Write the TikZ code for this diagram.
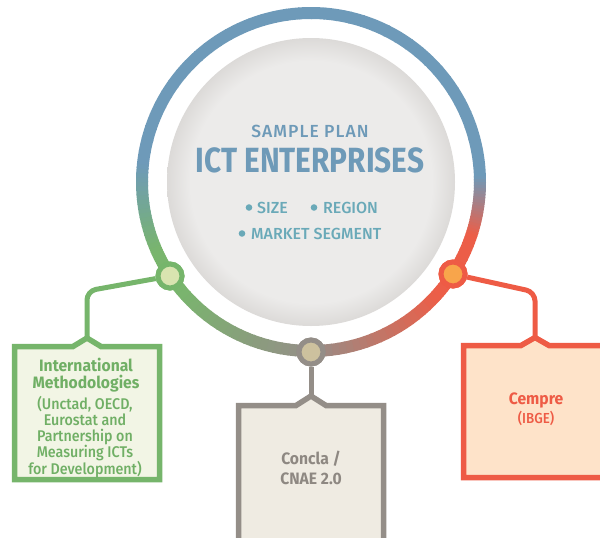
\documentclass[tikz,border=0pt]{standalone}
\usepackage{fontspec}
\setmainfont{Fira Sans}[FakeStretch=0.85]
\newfontfamily\boxfont{Fira Sans}[FakeStretch=0.95]
\newfontfamily\boxsubfont{Fira Sans Medium}[FakeStretch=0.92]
\newfontfamily\planfont{Fira Sans Medium}[LetterSpace=6]
\newfontfamily\bulletfont{Fira Sans Medium}
\usepackage{xcolor}
\usetikzlibrary{calc}
\definecolor{RingBlue}{HTML}{6E9AB9}
\definecolor{RingRed}{HTML}{EC5E48}
\definecolor{RingGray}{HTML}{958E88}
\definecolor{RingGreen}{HTML}{79B56D}
\definecolor{DiscIn}{HTML}{ECEBEA}
\definecolor{DiscEdge}{HTML}{DCDAD8}
\definecolor{TitleBlue}{HTML}{6E9AB8}
\definecolor{BulletTeal}{HTML}{6AA9B8}
\definecolor{GreenLine}{HTML}{76B56B}
\definecolor{GreenFill}{HTML}{F2F5E5}
\definecolor{GreenDot}{HTML}{D9E4B0}
\definecolor{GreyLine}{HTML}{948E88}
\definecolor{GreyFill}{HTML}{EFEBE2}
\definecolor{GreyDot}{HTML}{CDC19E}
\definecolor{RedLine}{HTML}{EE5B45}
\definecolor{RedFill}{HTML}{FEE3C9}
\definecolor{OrangeDot}{HTML}{F8A54B}
\definecolor{GreenText}{HTML}{70AF65}
\definecolor{GreyText}{HTML}{8E8882}
\definecolor{RedText}{HTML}{EE5B45}
\pgfdeclareradialshading{discshade}{\pgfpoint{0bp}{0bp}}{color(0bp)=(DiscIn); color(21bp)=(DiscIn); color(25bp)=(DiscEdge); color(50bp)=(DiscEdge)}

\begin{document}
\begin{tikzpicture}[x=1pt, y=-1pt,
    junction/.style={circle, minimum size=24pt, inner sep=0pt, line width=5pt},
    link/.style={line width=5pt, rounded corners=9pt},
    boxline/.style={line width=5.5pt},
    headtext/.style={font=\boxfont\bfseries\fontsize{16.5}{19.5}\selectfont, align=center, inner sep=0pt},
    subtext/.style={font=\boxsubfont\fontsize{15.5}{16}\selectfont, align=center, inner sep=0pt},
    bullettext/.style={inner sep=0pt, anchor=base west, text=BulletTeal, font=\bulletfont\fontsize{16}{18}\selectfont},
    centertext/.style={inner sep=0pt, anchor=base}]
  \useasboundingbox (0,0) rectangle (600,538);
  \clip (0,0) rectangle (600,538);

  % ring with colour stops
  \foreach \sa/\ea/\ca/\cb in {-90/-2/RingBlue/RingBlue, -2/18/RingBlue/RingRed,
      18/42/RingRed/RingRed, 42/90/RingRed/RingGray, 90/140/RingGray/RingGreen,
      140/156/RingGreen/RingGreen, 156/186/RingGreen/RingBlue, 186/270/RingBlue/RingBlue} {
    \foreach \i in {0,...,19} {
      \pgfmathsetmacro\aa{\sa+(\ea-\sa)*\i/20}
      \pgfmathsetmacro\ab{\sa+(\ea-\sa)*(\i+1)/20+0.4}
      \pgfmathtruncatemacro\pc{100*(\i+0.5)/20}
      \draw[line width=12pt, draw=\cb!\pc!\ca] (311,182) ++(\aa:169) arc[start angle=\aa, end angle=\ab, radius=169];
    }
  }
  \shade[shading=discshade] (311,182) circle[radius=144];

  % junction points
  \node[junction, draw=GreenLine, fill=GreenDot] (gdot) at (170,276) {};
  \node[junction, draw=GreyLine, fill=GreyDot] (ydot) at (311,352) {};
  \node[junction, draw=RedLine, fill=OrangeDot] (odot) at (453,274) {};
  \coordinate (gtip) at (87,338);
  \coordinate (ytip) at (311,396);
  \coordinate (otip) at (535,337.5);

  % connectors
  \draw[link, GreenLine] (gdot) -- (87,291) -- (gtip);
  \draw[link, GreyLine] (ydot) -- (ytip);
  \draw[link, RedLine] (odot) -- (535,292) -- (otip);

  % boxes
  \filldraw[boxline, draw=GreenLine, fill=GreenFill] (14.5,346.5) -- (73,346.5) -- (gtip)
    -- (101,346.5) -- (159.5,346.5) -- (159.5,479.5) -- (14.5,479.5) -- cycle;
  \filldraw[boxline, draw=GreyLine, fill=GreyFill] (238.5,405.5) -- (296,405.5) -- (ytip)
    -- (326,405.5) -- (383.5,405.5) -- (383.5,560) -- (238.5,560) -- cycle;
  \filldraw[boxline, draw=RedLine, fill=RedFill] (463.5,345.5) -- (521,345.5) -- (otip)
    -- (549,345.5) -- (620,345.5) -- (620,477.5) -- (463.5,477.5) -- cycle;
  \node[junction, draw=GreenLine, fill=GreenDot] at (gdot) {};
  \node[junction, draw=GreyLine, fill=GreyDot] at (ydot) {};
  \node[junction, draw=RedLine, fill=OrangeDot] at (odot) {};

  % centre texts
  \node[centertext, text=TitleBlue, font=\planfont\fontsize{17.5}{20}\selectfont] (plan) at (310,137) {SAMPLE PLAN};
  \node[centertext, text=TitleBlue, font=\bfseries\fontsize{35}{40}\selectfont] (title) at (310,172) {ICT ENTERPRISES};
  \fill[BulletTeal] (249,207.5) circle[radius=3.3] (314,207.5) circle[radius=3.3] (242,233.5) circle[radius=3.3];
  \node[bullettext] (size) at (257,213) {SIZE};
  \node[bullettext] (region) at (323,213) {REGION};
  \node[bullettext] (segment) at (251,239) {MARKET SEGMENT};

  % box texts
  \node[headtext, anchor=north, text=GreenText, font=\boxfont\bfseries\fontsize{16.5}{16.5}\selectfont] (ghead) at (86,358) {International\\Methodologies};
  \node[subtext, anchor=north, text=GreenText] (gsub) at (85,396) {(Unctad, OECD,\\Eurostat and\\Partnership on\\Measuring ICTs\\for Development)};
  \node[headtext, anchor=north, text=GreyText] (yhead) at (311,451) {Concla /\\CNAE 2.0};
  \node[headtext, anchor=base, text=RedText] (ohead) at (536,404) {Cempre};
  \node[subtext, anchor=base, text=RedText, font=\boxsubfont\fontsize{14.5}{16}\selectfont] (osub) at (536,423) {(IBGE)};
\end{tikzpicture}
\end{document}
